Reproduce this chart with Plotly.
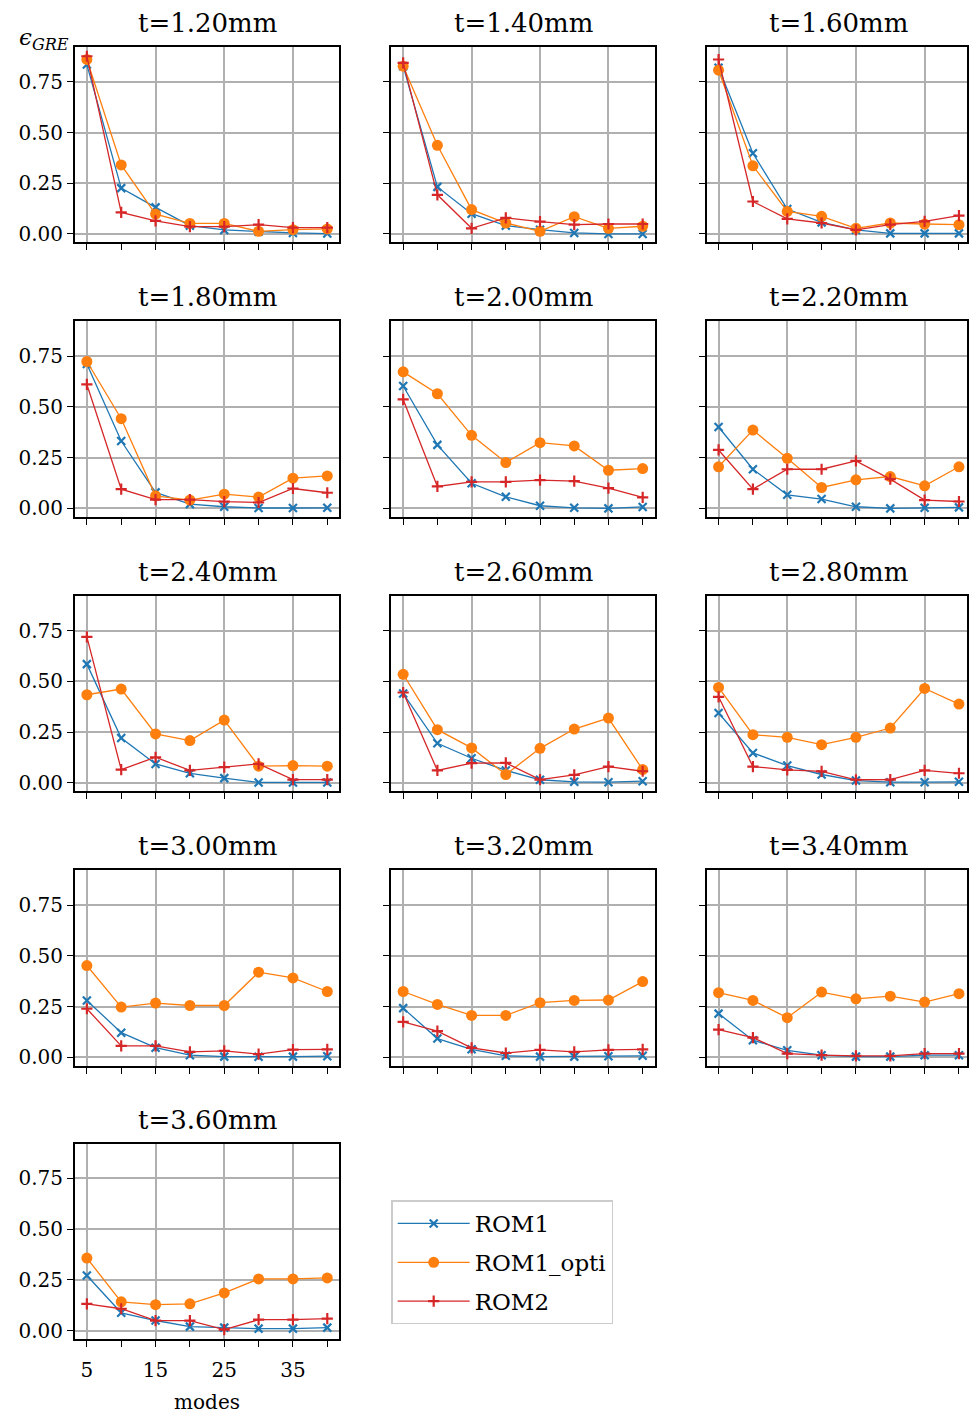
import plotly.graph_objects as go

modes = [5, 10, 15, 20, 25, 30, 35, 40]
thicknesses = ["1.20", "1.40", "1.60", "1.80", "2.00", "2.20", "2.40",
               "2.60", "2.80", "3.00", "3.20", "3.40", "3.60"]

rom1 = [
    [0.835, 0.226, 0.131, 0.041, 0.020, 0.011, 0.005, 0.002],
    [0.827, 0.232, 0.100, 0.041, 0.021, 0.005, 0.000, 0.000],
    [0.819, 0.398, 0.123, 0.057, 0.020, 0.003, 0.003, 0.003],
    [0.712, 0.332, 0.079, 0.021, 0.008, 0.002, 0.002, 0.003],
    [0.603, 0.313, 0.124, 0.057, 0.013, 0.003, 0.000, 0.007],
    [0.401, 0.193, 0.067, 0.046, 0.008, 0.000, 0.003, 0.005],
    [0.585, 0.221, 0.093, 0.047, 0.023, 0.002, 0.002, 0.002],
    [0.440, 0.195, 0.121, 0.061, 0.015, 0.005, 0.003, 0.008],
    [0.344, 0.147, 0.085, 0.041, 0.011, 0.003, 0.003, 0.005],
    [0.280, 0.121, 0.047, 0.010, 0.003, 0.002, 0.003, 0.005],
    [0.242, 0.092, 0.039, 0.007, 0.003, 0.003, 0.005, 0.007],
    [0.215, 0.084, 0.034, 0.010, 0.003, 0.003, 0.010, 0.010],
    [0.272, 0.088, 0.050, 0.020, 0.015, 0.010, 0.010, 0.015],
]
rom1_opti = [
    [0.860, 0.340, 0.098, 0.052, 0.052, 0.013, 0.021, 0.025],
    [0.827, 0.437, 0.120, 0.054, 0.013, 0.085, 0.028, 0.038],
    [0.807, 0.336, 0.111, 0.087, 0.028, 0.054, 0.049, 0.046],
    [0.724, 0.442, 0.062, 0.041, 0.070, 0.056, 0.149, 0.160],
    [0.673, 0.565, 0.360, 0.226, 0.324, 0.308, 0.188, 0.196],
    [0.205, 0.386, 0.247, 0.103, 0.141, 0.157, 0.111, 0.205],
    [0.434, 0.462, 0.241, 0.208, 0.309, 0.082, 0.085, 0.082],
    [0.535, 0.262, 0.172, 0.041, 0.170, 0.265, 0.319, 0.065],
    [0.470, 0.237, 0.224, 0.188, 0.224, 0.270, 0.465, 0.388],
    [0.452, 0.247, 0.267, 0.255, 0.255, 0.419, 0.391, 0.324],
    [0.324, 0.260, 0.206, 0.206, 0.269, 0.280, 0.282, 0.373],
    [0.318, 0.280, 0.195, 0.321, 0.288, 0.301, 0.272, 0.313],
    [0.358, 0.142, 0.128, 0.132, 0.186, 0.255, 0.255, 0.260],
]
rom2 = [
    [0.876, 0.106, 0.065, 0.036, 0.036, 0.046, 0.031, 0.031],
    [0.843, 0.193, 0.028, 0.079, 0.061, 0.046, 0.049, 0.049],
    [0.860, 0.160, 0.074, 0.054, 0.020, 0.046, 0.062, 0.090],
    [0.611, 0.095, 0.043, 0.043, 0.033, 0.029, 0.098, 0.077],
    [0.537, 0.108, 0.131, 0.131, 0.139, 0.134, 0.100, 0.054],
    [0.288, 0.095, 0.193, 0.193, 0.234, 0.144, 0.041, 0.034],
    [0.719, 0.065, 0.126, 0.061, 0.077, 0.093, 0.016, 0.016],
    [0.445, 0.061, 0.097, 0.098, 0.016, 0.039, 0.080, 0.057],
    [0.424, 0.080, 0.064, 0.056, 0.015, 0.016, 0.061, 0.047],
    [0.239, 0.056, 0.056, 0.026, 0.031, 0.015, 0.038, 0.039],
    [0.174, 0.129, 0.046, 0.021, 0.036, 0.026, 0.036, 0.039],
    [0.136, 0.097, 0.018, 0.010, 0.007, 0.007, 0.018, 0.018],
    [0.132, 0.108, 0.049, 0.049, 0.005, 0.054, 0.054, 0.059],
]
series_names = ["ROM1", "ROM1_opti", "ROM2"]
yticks = [0.0, 0.25, 0.5, 0.75]
xtick_labels = [5, 15, 25, 35]

W, H = 969, 1427
FONT = "DejaVu Serif"
cols = [(75, 340), (392, 656), (708, 969)]
rows = [(47, 243), (322, 518), (597, 793), (872, 1068), (1146, 1342)]
XR = [3.25, 41.75]
YR = [-0.042, 0.922]

styles = [
    dict(color="#1f77b4", symbol="x-thin", size=8, lw=2.2),
    dict(color="#ff7f0e", symbol="circle", size=11, lw=0),
    dict(color="#d62728", symbol="cross-thin", size=8, lw=2.2),
]
data = [rom1, rom1_opti, rom2]

fig = go.Figure()
annotations = []
for i, t in enumerate(thicknesses):
    r, c = divmod(i, 3)
    n = i + 1
    xa = "x" if n == 1 else f"x{n}"
    ya = "y" if n == 1 else f"y{n}"
    x0, x1 = cols[c]
    y0, y1 = rows[r]
    xr = list(XR)
    if c == 2:
        full = 265.0
        xr = [XR[0], XR[0] + (XR[1] - XR[0]) * (x1 - x0) / full]
    for s in range(3):
        st = styles[s]
        fig.add_trace(go.Scatter(
            x=modes, y=data[s][i], mode="lines+markers", name=series_names[s],
            xaxis=xa, yaxis=ya, showlegend=(i == 0), legendgroup=series_names[s],
            line=dict(color=st["color"], width=1.3),
            marker=dict(symbol=st["symbol"], size=st["size"], color=st["color"],
                        line=dict(color=st["color"], width=st["lw"])),
        ))
    bottom_label = (i == 12)
    left_label = (c == 0)
    xkey = "xaxis" if n == 1 else f"xaxis{n}"
    ykey = "yaxis" if n == 1 else f"yaxis{n}"
    fig.update_layout(**{
        xkey: dict(
            domain=[x0 / W, min(x1 / W, 1.0)], anchor=ya, range=xr,
            tickmode="array", tickvals=xtick_labels,
            ticktext=[str(v) for v in xtick_labels] if bottom_label else None,
            showticklabels=bottom_label, ticks="outside", ticklen=6, tickwidth=1.3,
            tickcolor="black", ticklabelstandoff=6,
            minor=dict(tickmode="array", tickvals=modes, ticks="outside", ticklen=6,
                       tickwidth=1.3, tickcolor="black", showgrid=False),
            showgrid=True, gridcolor="#b0b0b0", gridwidth=1.6, zeroline=False,
            showline=True, linecolor="black", linewidth=1.6, mirror=True,
            tickfont=dict(family=FONT, size=20, color="black"),
            title=dict(text="modes", font=dict(family=FONT, size=20, color="black"),
                       standoff=14) if bottom_label else None,
        ),
        ykey: dict(
            domain=[1 - y1 / H, 1 - y0 / H], anchor=xa, range=YR,
            tickmode="array", tickvals=yticks,
            ticktext=[f"{v:.2f}" for v in yticks],
            showticklabels=left_label, ticks="outside", ticklen=6, tickwidth=1.3,
            tickcolor="black",
            showgrid=True, gridcolor="#b0b0b0", gridwidth=1.6, zeroline=False,
            showline=True, linecolor="black", linewidth=1.6, mirror=True,
            tickfont=dict(family=FONT, size=20, color="black"),
        ),
    })
    annotations.append(dict(
        text=f"t={t}mm", xref="paper", yref="paper",
        x=((x0 + min(x0 + 265, 973)) / 2) / W, y=1 - y0 / H,
        xanchor="center", yanchor="bottom", yshift=7, showarrow=False,
        font=dict(family=FONT, size=26, color="black"),
    ))

annotations.append(dict(
    text="<i>ϵ</i><sub><i>GRE</i></sub>", xref="paper", yref="paper",
    x=17 / W, y=1 - 22 / H, xanchor="left", yanchor="top", showarrow=False,
    font=dict(family=FONT, size=23, color="black"),
))

fig.update_layout(
    width=W, height=H, margin=dict(l=0, r=0, t=0, b=0),
    paper_bgcolor="white", plot_bgcolor="white",
    annotations=annotations,
    showlegend=True,
    legend=dict(
        x=392 / W, y=1 - 1203 / H, xanchor="left", yanchor="top",
        bgcolor="rgba(255,255,255,0.8)", bordercolor="#cccccc", borderwidth=1.5,
        font=dict(family=FONT, size=23, color="black"),
        tracegroupgap=6, itemwidth=72,
    ),
)

fig.write_html("out.html")
